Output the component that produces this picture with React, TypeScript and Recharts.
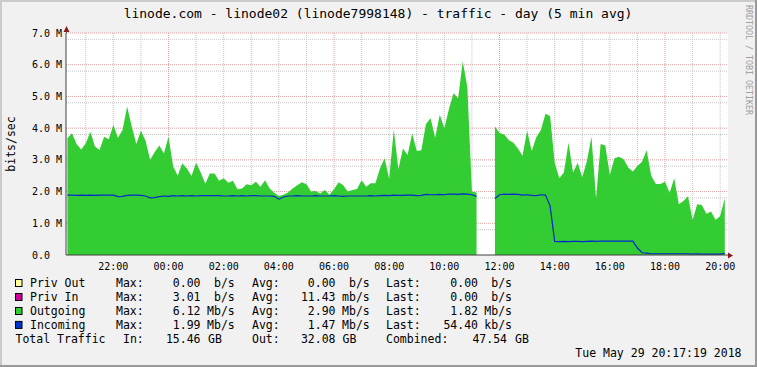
import { ComposedChart, Area, Line, XAxis, YAxis, CartesianGrid } from "recharts";

const W = 757;
const H = 367;
const FONT = '"DejaVu Sans Mono", monospace';
const PLOT = { left: 66, top: 33, right: 728, bottom: 255 };

// samples every 10 minutes, first one at 20:20 the day before
const SAMPLE_START = 20 + 20 / 60;
const SAMPLE_STEP = 10 / 60;
const X_RANGE = [20 + 17 / 60, 44 + 17 / 60];

// Mbit/s, null = no data
const outgoing = [
  3.68, 3.84, 3.5, 3.33, 3.52, 3.89, 3.42, 3.31, 3.73, 3.65,
  4.1, 3.7, 3.94, 4.68, 4.05, 3.5, 3.92, 3.6, 3.0, 3.25,
  3.45, 3.2, 3.73, 2.8, 2.5, 2.89, 2.73, 2.49, 2.91, 2.6,
  2.25, 2.57, 2.57, 2.34, 2.42, 2.28, 2.34, 2.07, 2.1, 2.23,
  2.2, 2.31, 2.15, 2.36, 2.1, 1.96, 1.86, 1.9, 1.97, 2.1,
  2.2, 2.29, 2.23, 2.0, 2.02, 1.94, 2.05, 1.9, 2.07, 2.29,
  2.2, 2.0, 2.05, 2.08, 2.36, 2.15, 2.26, 2.26, 2.73, 3.05,
  2.4, 3.96, 2.7, 3.36, 3.15, 3.83, 3.28, 3.3, 4.13, 4.31,
  3.7, 4.42, 4.0, 4.6, 5.1, 4.94, 6.1, 5.3, 2.0, 1.97,
  null, null, null, 4.05, 3.85, 3.8, 3.63, 3.54, 3.36, 3.13,
  3.92, 3.28, 3.71, 3.94, 4.45, 4.38, 2.91, 2.42, 2.6, 3.54,
  2.6, 2.91, 2.45, 2.96, 3.73, 1.78, 3.5, 3.45, 2.52, 3.05,
  3.1, 3.02, 2.76, 2.63, 2.81, 2.94, 3.3, 2.5, 2.24, 2.24,
  2.31, 1.96, 2.42, 1.6, 1.7, 1.85, 1.1, 1.6, 1.58, 1.3,
  1.37, 1.1, 1.23, 1.79,
];

const incoming = [
  1.89, 1.89, 1.88, 1.89, 1.88, 1.89, 1.88, 1.89, 1.89, 1.89,
  1.89, 1.84, 1.85, 1.88, 1.89, 1.89, 1.88, 1.86, 1.8, 1.81,
  1.84, 1.86, 1.85, 1.87, 1.86, 1.87, 1.86, 1.87, 1.86, 1.87,
  1.87, 1.87, 1.87, 1.87, 1.86, 1.86, 1.87, 1.86, 1.87, 1.86,
  1.87, 1.87, 1.86, 1.86, 1.86, 1.85, 1.76, 1.83, 1.86, 1.86,
  1.87, 1.86, 1.86, 1.86, 1.87, 1.86, 1.86, 1.86, 1.87, 1.86,
  1.85, 1.86, 1.86, 1.86, 1.86, 1.86, 1.87, 1.86, 1.87, 1.88,
  1.87, 1.89, 1.88, 1.88, 1.89, 1.89, 1.87, 1.88, 1.91, 1.9,
  1.9, 1.91, 1.9, 1.92, 1.92, 1.91, 1.93, 1.92, 1.9, 1.85,
  null, null, null, 1.78, 1.9, 1.92, 1.91, 1.92, 1.91, 1.89,
  1.9, 1.88, 1.87, 1.9, 1.89, 1.55, 0.43, 0.42, 0.43, 0.42,
  0.43, 0.43, 0.42, 0.43, 0.44, 0.43, 0.44, 0.44, 0.44, 0.44,
  0.44, 0.44, 0.44, 0.44, 0.22, 0.07, 0.06, 0.04, 0.04, 0.04,
  0.04, 0.04, 0.04, 0.04, 0.04, 0.04, 0.03, 0.04, 0.03, 0.03,
  0.03, 0.03, 0.03, 0.05,
];

const xTicks = [22, 24, 26, 28, 30, 32, 34, 36, 38, 40, 42, 44];
const yTicks = [0, 1, 2, 3, 4, 5, 6, 7];

const legendRows = [
  { label: "Priv Out", color: "#FFFF99", max: "0.00", maxU: "b/s", avg: "0.00", avgU: "b/s", last: "0.00", lastU: "b/s" },
  { label: "Priv In", color: "#CC0099", max: "3.01", maxU: "b/s", avg: "11.43", avgU: "mb/s", last: "0.00", lastU: "b/s" },
  { label: "Outgoing", color: "#33CC33", max: "6.12", maxU: "Mb/s", avg: "2.90", avgU: "Mb/s", last: "1.82", lastU: "Mb/s" },
  { label: "Incoming", color: "#0033CC", max: "1.99", maxU: "Mb/s", avg: "1.47", avgU: "Mb/s", last: "54.40", lastU: "kb/s" },
];
const totals = { inGB: "15.46", outGB: "32.08", combinedGB: "47.54" };

const data = outgoing.map((v, i) => ({
  t: SAMPLE_START + i * SAMPLE_STEP,
  out: v,
  inc: incoming[i],
}));

// grid: minor every 0.2 M / every hour, major every 1 M / every 6 hours
const majorY = [1, 2, 3, 4, 5, 6, 7];
const minorY: number[] = [];
for (let k = 1; k < 35; k++) if (k % 5 !== 0) minorY.push(k / 5);
const majorX = [24, 30, 36, 42];
const minorX: number[] = [];
for (let h = 21; h <= 44; h++) if (!majorX.includes(h)) minorX.push(h);

const hh = (h: number) => String(h % 24).padStart(2, "0") + ":00";

const YTick = ({ y, payload }: any) => (
  <text x={32} y={y + 3.5} fontFamily={FONT} fontSize={10} fill="#000">
    {payload.value === 0 ? "0.0" : `${payload.value.toFixed(1)} M`}
  </text>
);

const XTick = ({ x, payload }: any) => (
  <text x={x} y={PLOT.bottom + 14.5} textAnchor="middle" fontFamily={FONT} fontSize={10} fill="#000">
    {hh(payload.value)}
  </text>
);

const rowY = [287.3, 301.3, 315.3, 329.2, 343.1];

const T = (props: any) => (
  <text fontFamily={FONT} fontSize={11.5} fill="#000" xmlSpace="preserve" {...props} />
);

const Overlay = () => (
  <svg width={W} height={H} style={{ position: "absolute", left: 0, top: 0, pointerEvents: "none" }}>
    {/* frame */}
    <line x1={0} y1={1} x2={W} y2={1} stroke="#CBCBCB" strokeWidth={2} />
    <line x1={1} y1={0} x2={1} y2={H} stroke="#CBCBCB" strokeWidth={2} />
    <line x1={0} y1={H - 1} x2={W} y2={H - 1} stroke="#999999" strokeWidth={2} />
    <line x1={W - 1} y1={0} x2={W - 1} y2={H} stroke="#999999" strokeWidth={2} />

    <text x={378} y={18} textAnchor="middle" fontFamily={FONT} fontSize={13} fill="#000">
      linode.com - linode02 (linode7998148) - traffic - day (5 min avg)
    </text>
    <text
      x={746}
      y={60}
      textAnchor="middle"
      transform="rotate(90 746 60)"
      fontFamily={FONT}
      fontSize={8.3}
      fill="#A0A0A0"
    >
      RRDTOOL / TOBI OETIKER
    </text>
    <text
      x={15}
      y={144}
      textAnchor="middle"
      transform="rotate(-90 15 144)"
      fontFamily={FONT}
      fontSize={11.5}
      fill="#000"
    >
      bits/sec
    </text>

    {/* axis arrows */}
    <line x1={PLOT.left + 0.5} y1={PLOT.top} x2={PLOT.left + 0.5} y2={PLOT.top - 3} stroke="#404040" />
    <polygon points={`${PLOT.left + 0.5},${PLOT.top - 7} ${PLOT.left - 2.5},${PLOT.top - 1} ${PLOT.left + 3.5},${PLOT.top - 1}`} fill="#8B1A1A" />
    <polygon points={`${PLOT.right + 5},${PLOT.bottom + 0.5} ${PLOT.right},${PLOT.bottom - 2.5} ${PLOT.right},${PLOT.bottom + 3.5}`} fill="#8B1A1A" />

    {/* legend */}
    {legendRows.map((r, i) => (
      <g key={r.label}>
        <rect x={15.5} y={rowY[i] - 7.8} width={6.5} height={7} fill={r.color} stroke="#000" strokeWidth={1} />
        <T x={30} y={rowY[i]}>{r.label}</T>
        <T x={116} y={rowY[i]}>Max:</T>
        <T x={200.5} y={rowY[i]} textAnchor="end">{r.max}</T>
        <T x={234.8} y={rowY[i]} textAnchor="end">{r.maxU}</T>
        <T x={252} y={rowY[i]}>Avg:</T>
        <T x={335.5} y={rowY[i]} textAnchor="end">{r.avg}</T>
        <T x={369.8} y={rowY[i]} textAnchor="end">{r.avgU}</T>
        <T x={386} y={rowY[i]}>Last:</T>
        <T x={478} y={rowY[i]} textAnchor="end">{r.last}</T>
        <T x={512} y={rowY[i]} textAnchor="end">{r.lastU}</T>
      </g>
    ))}
    <T x={15.5} y={rowY[4]}>Total Traffic</T>
    <T x={123} y={rowY[4]}>In:</T>
    <T x={200.5} y={rowY[4]} textAnchor="end">{totals.inGB}</T>
    <T x={208} y={rowY[4]}>GB</T>
    <T x={252} y={rowY[4]}>Out:</T>
    <T x={335.5} y={rowY[4]} textAnchor="end">{totals.outGB}</T>
    <T x={342.5} y={rowY[4]}>GB</T>
    <T x={386} y={rowY[4]}>Combined:</T>
    <T x={507} y={rowY[4]} textAnchor="end">{totals.combinedGB}</T>
    <T x={515} y={rowY[4]}>GB</T>
    <T x={741.5} y={356.5} textAnchor="end">Tue May 29 20:17:19 2018</T>
  </svg>
);

export default function App() {
  return (
    <div style={{ position: "absolute", left: 0, top: 0, width: W, height: H, background: "#F1F1F1", overflow: "hidden" }}>
      <ComposedChart
        width={W}
        height={H}
        data={data}
        margin={{ top: PLOT.top, right: W - PLOT.right, bottom: H - PLOT.bottom - 20, left: PLOT.left - 60 }}
      >
        <CartesianGrid
          fill="#FFFFFF"
          stroke="#C4C4C4"
          strokeDasharray="1 1"
          horizontalValues={minorY}
          verticalValues={minorX}
        />
        <CartesianGrid
          stroke="#DFA0A0"
          strokeDasharray="1 1"
          horizontalValues={majorY}
          verticalValues={majorX}
        />
        <XAxis
          type="number"
          dataKey="t"
          domain={X_RANGE}
          allowDataOverflow
          ticks={xTicks}
          tick={<XTick />}
          tickLine={false}
          height={20}
          axisLine={{ stroke: "#404040" }}
        />
        <YAxis
          type="number"
          domain={[0, 7]}
          ticks={yTicks}
          tick={<YTick />}
          tickLine={false}
          width={60}
          axisLine={{ stroke: "#404040" }}
        />
        <Area
          type="linear"
          dataKey="out"
          fill="#33CC33"
          fillOpacity={1}
          stroke="none"
          dot={false}
          activeDot={false}
          isAnimationActive={false}
        />
        <Line
          type="linear"
          dataKey="inc"
          stroke="#0028CC"
          strokeWidth={1.2}
          dot={false}
          activeDot={false}
          isAnimationActive={false}
        />
      </ComposedChart>
      <Overlay />
    </div>
  );
}
